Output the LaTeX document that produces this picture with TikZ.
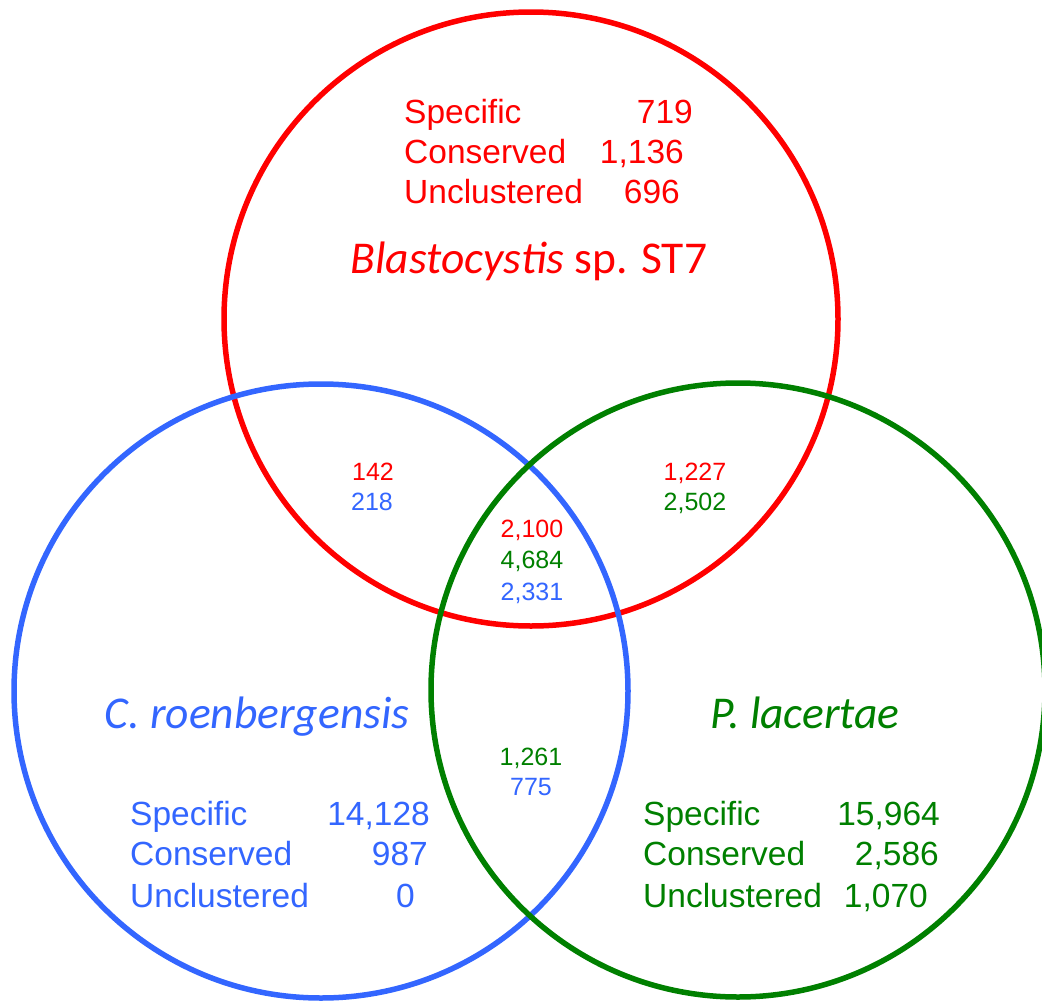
\documentclass[tikz,border=0pt]{standalone}
\usepackage{fontspec}
\setmainfont{Liberation Sans}
\newfontfamily\speciesfont{Carlito}
\definecolor{stred}{RGB}{255,0,0}
\definecolor{crblue}{RGB}{51,102,255}
\definecolor{plgreen}{RGB}{0,128,0}
\begin{document}
\begin{tikzpicture}[x=1pt,y=-1pt,
  setring/.style={circle,draw=#1,line width=5.5pt,minimum size=614pt,inner sep=0pt},
  rowlabel/.style={anchor=base west,inner sep=0pt,font=\fontsize{33.5}{40}\selectfont},
  rowcount/.style={anchor=base east,inner sep=0pt,font=\fontsize{33.5}{40}\selectfont},
  overlap/.style={anchor=base,inner sep=0pt,font=\fontsize{25}{30}\selectfont},
  species/.style={anchor=base,inner sep=0pt,font=\speciesfont\fontsize{45.5}{50}\selectfont}]
\useasboundingbox (0,0) rectangle (1042,1001);
\fill[white] (0,0) rectangle (1042,1001);

% the three sets
\node[setring=stred]   (st7) at (531,319) {};
\node[setring=crblue]  (cro) at (321,691) {};
\node[setring=plgreen] (pla) at (738,690) {};

% Blastocystis sp. ST7
\begin{scope}[text=stred]
  \node[rowlabel] (st7specL) at (404,123) {Specific};
  \node[rowcount] (st7specN) at (693,123) {719};
  \node[rowlabel] (st7consL) at (404,163) {Conserved};
  \node[rowcount] (st7consN) at (684,163) {1,136};
  \node[rowlabel] (st7uncL)  at (404,203) {Unclustered};
  \node[rowcount] (st7uncN)  at (680,203) {696};
  \node[species]  (st7name)  at (529,273) {\itshape Blastocystis\/\upshape{} sp. ST7};
\end{scope}

% C. roenbergensis
\begin{scope}[text=crblue]
  \node[species]  (croname)  at (257,728) {\itshape C. roenbergensis};
  \node[rowlabel] (crospecL) at (130,825) {Specific};
  \node[rowcount] (crospecN) at (430,825) {14,128};
  \node[rowlabel] (croconsL) at (130,865) {Conserved};
  \node[rowcount] (croconsN) at (428,865) {987};
  \node[rowlabel] (crouncL)  at (130,907) {Unclustered};
  \node[rowcount] (crouncN)  at (415,907) {0};
\end{scope}

% P. lacertae
\begin{scope}[text=plgreen]
  \node[species]  (planame)  at (805,728) {\itshape P. lacertae};
  \node[rowlabel] (plaspecL) at (643,825) {Specific};
  \node[rowcount] (plaspecN) at (940,825) {15,964};
  \node[rowlabel] (placonsL) at (643,865) {Conserved};
  \node[rowcount] (placonsN) at (939,865) {2,586};
  \node[rowlabel] (plauncL)  at (643,907) {Unclustered};
  \node[rowcount] (plauncN)  at (928,907) {1,070};
\end{scope}

% pairwise and triple overlaps
\node[overlap,text=stred]   (rbR)  at (373,480) {142};
\node[overlap,text=crblue]  (rbB)  at (372,510) {218};
\node[overlap,text=stred]   (rgR)  at (695,480) {1,227};
\node[overlap,text=plgreen] (rgG)  at (695,510) {2,502};
\node[overlap,text=stred]   (allR) at (532,537) {2,100};
\node[overlap,text=plgreen] (allG) at (532,568) {4,684};
\node[overlap,text=crblue]  (allB) at (532,600) {2,331};
\node[overlap,text=plgreen] (bgG)  at (531,765) {1,261};
\node[overlap,text=crblue]  (bgB)  at (531,795) {775};
\end{tikzpicture}
\end{document}
